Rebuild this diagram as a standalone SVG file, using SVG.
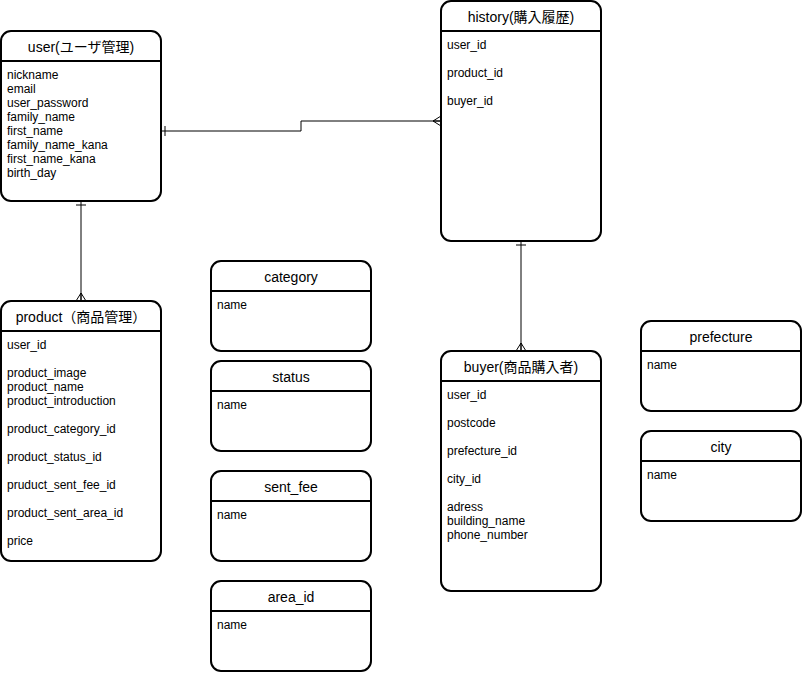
<svg xmlns="http://www.w3.org/2000/svg" width="803" height="681" viewBox="0 0 803 681">
<style>
.box{fill:#fff;stroke:#000;stroke-width:2}
.hd{stroke:#000;stroke-width:2}
.t{font-family:"Liberation Sans","Noto Sans CJK JP",sans-serif;font-size:14px;text-anchor:middle;fill:#000}
.f{font-family:"Liberation Sans","Noto Sans CJK JP",sans-serif;font-size:12px;fill:#000}
.c{fill:none;stroke:#000;stroke-width:1}
</style>
<rect width="803" height="681" fill="#fff"/>
<g id="connectors">
<path class="c" d="M161 131H301V121H441"/>
<path class="c" d="M165 126V136"/>
<path class="c" d="M441 116L433 121L441 126M433 121H441"/>
<path class="c" d="M81 201V301"/>
<path class="c" d="M76 205H86"/>
<path class="c" d="M76 301L81 293L86 301M81 293V301"/>
<path class="c" d="M521 241V351"/>
<path class="c" d="M516 245H526"/>
<path class="c" d="M516 351L521 343L526 351M521 343V351"/>
</g>
<g id="user">
<rect class="box" x="1" y="31" width="160" height="170" rx="10"/>
<line class="hd" x1="1" y1="61" x2="161" y2="61"/>
<text class="t" x="81" y="52">user(ユーザ管理)</text>
<text class="f" x="7" y="79">nickname</text>
<text class="f" x="7" y="93">email</text>
<text class="f" x="7" y="107">user_password</text>
<text class="f" x="7" y="121">family_name</text>
<text class="f" x="7" y="135">first_name</text>
<text class="f" x="7" y="149">family_name_kana</text>
<text class="f" x="7" y="163">first_name_kana</text>
<text class="f" x="7" y="177">birth_day</text>
</g>
<g id="history">
<rect class="box" x="441" y="1" width="160" height="240" rx="10"/>
<line class="hd" x1="441" y1="31" x2="601" y2="31"/>
<text class="t" x="521" y="22">history(購入履歴)</text>
<text class="f" x="447" y="49">user_id</text>
<text class="f" x="447" y="77">product_id</text>
<text class="f" x="447" y="105">buyer_id</text>
</g>
<g id="product">
<rect class="box" x="1" y="301" width="160" height="260" rx="10"/>
<line class="hd" x1="1" y1="331" x2="161" y2="331"/>
<text class="t" x="81" y="322">product（商品管理）</text>
<text class="f" x="7" y="349">user_id</text>
<text class="f" x="7" y="377">product_image</text>
<text class="f" x="7" y="391">product_name</text>
<text class="f" x="7" y="405">product_introduction</text>
<text class="f" x="7" y="433">product_category_id</text>
<text class="f" x="7" y="461">product_status_id</text>
<text class="f" x="7" y="489">pruduct_sent_fee_id</text>
<text class="f" x="7" y="517">product_sent_area_id</text>
<text class="f" x="7" y="545">price</text>
</g>
<g id="category">
<rect class="box" x="211" y="261" width="160" height="90" rx="10"/>
<line class="hd" x1="211" y1="291" x2="371" y2="291"/>
<text class="t" x="291" y="282">category</text>
<text class="f" x="217" y="309">name</text>
</g>
<g id="status">
<rect class="box" x="211" y="361" width="160" height="90" rx="10"/>
<line class="hd" x1="211" y1="391" x2="371" y2="391"/>
<text class="t" x="291" y="382">status</text>
<text class="f" x="217" y="409">name</text>
</g>
<g id="sent_fee">
<rect class="box" x="211" y="471" width="160" height="90" rx="10"/>
<line class="hd" x1="211" y1="501" x2="371" y2="501"/>
<text class="t" x="291" y="492">sent_fee</text>
<text class="f" x="217" y="519">name</text>
</g>
<g id="area_id">
<rect class="box" x="211" y="581" width="160" height="90" rx="10"/>
<line class="hd" x1="211" y1="611" x2="371" y2="611"/>
<text class="t" x="291" y="602">area_id</text>
<text class="f" x="217" y="629">name</text>
</g>
<g id="buyer">
<rect class="box" x="441" y="351" width="160" height="240" rx="10"/>
<line class="hd" x1="441" y1="381" x2="601" y2="381"/>
<text class="t" x="521" y="372">buyer(商品購入者)</text>
<text class="f" x="447" y="399">user_id</text>
<text class="f" x="447" y="427">postcode</text>
<text class="f" x="447" y="455">prefecture_id</text>
<text class="f" x="447" y="483">city_id</text>
<text class="f" x="447" y="511">adress</text>
<text class="f" x="447" y="525">building_name</text>
<text class="f" x="447" y="539">phone_number</text>
</g>
<g id="prefecture">
<rect class="box" x="641" y="321" width="160" height="90" rx="10"/>
<line class="hd" x1="641" y1="351" x2="801" y2="351"/>
<text class="t" x="721" y="342">prefecture</text>
<text class="f" x="647" y="369">name</text>
</g>
<g id="city">
<rect class="box" x="641" y="431" width="160" height="90" rx="10"/>
<line class="hd" x1="641" y1="461" x2="801" y2="461"/>
<text class="t" x="721" y="452">city</text>
<text class="f" x="647" y="479">name</text>
</g>
</svg>
